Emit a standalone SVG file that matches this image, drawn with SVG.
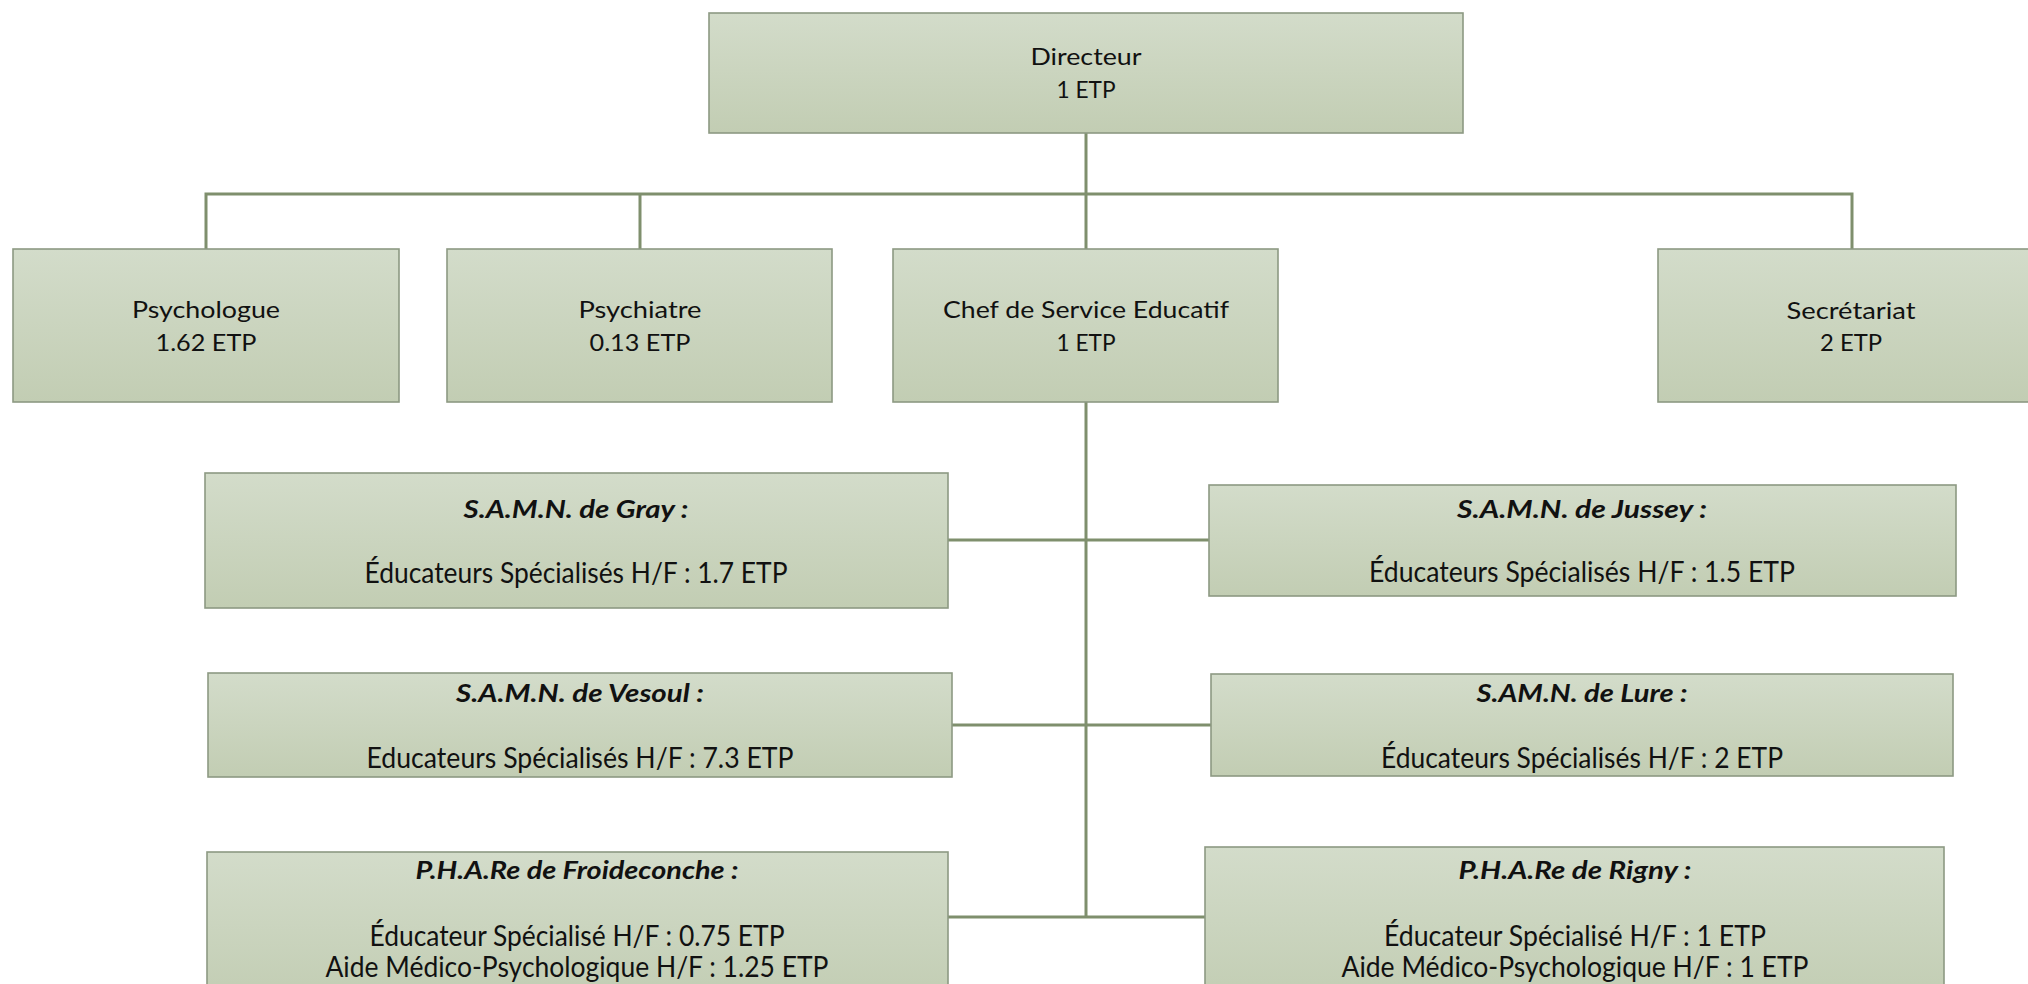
<svg xmlns="http://www.w3.org/2000/svg" width="2028" height="984" viewBox="0 0 2028 984">
<defs>
<linearGradient id="g" x1="0" y1="0" x2="0" y2="1">
<stop offset="0" stop-color="#d3dcca"/>
<stop offset="1" stop-color="#c2cdb3"/>
</linearGradient>
</defs>
<style>
.box{fill:url(#g);stroke:#8d9983;stroke-width:1.6}
.t{font-family:Lato,"Liberation Sans",sans-serif;font-size:24px;fill:#111;text-anchor:middle}
.h{font-family:Lato,"Liberation Sans",sans-serif;font-size:25px;font-weight:bold;font-style:italic;fill:#111;text-anchor:middle}
.l{font-family:Lato,"Liberation Sans",sans-serif;font-size:28px;fill:#111;text-anchor:middle}
.c{fill:none;stroke:#7f8f6d;stroke-width:3}
</style>
<rect width="2028" height="984" fill="#ffffff"/>
<g id="connectors">
<path class="c" d="M1086 133 V917"/>
<path class="c" d="M206 249 V194 H1852 V249"/>
<path class="c" d="M640 194 V249"/>
<path class="c" d="M948 540 H1209"/>
<path class="c" d="M952 725 H1211"/>
<path class="c" d="M948 917 H1205"/>
</g>
<g id="directeur">
<rect class="box" x="709" y="13" width="754" height="120"/>
<text class="t" x="1086" y="65" textLength="111" lengthAdjust="spacingAndGlyphs">Directeur</text>
<text class="t" x="1086" y="98" textLength="59" lengthAdjust="spacingAndGlyphs">1 ETP</text>
</g>
<g id="psychologue">
<rect class="box" x="13" y="249" width="386" height="153"/>
<text class="t" x="206" y="318" textLength="148" lengthAdjust="spacingAndGlyphs">Psychologue</text>
<text class="t" x="206" y="351" textLength="101" lengthAdjust="spacingAndGlyphs">1.62 ETP</text>
</g>
<g id="psychiatre">
<rect class="box" x="447" y="249" width="385" height="153"/>
<text class="t" x="640" y="318" textLength="123" lengthAdjust="spacingAndGlyphs">Psychiatre</text>
<text class="t" x="640" y="351" textLength="101" lengthAdjust="spacingAndGlyphs">0.13 ETP</text>
</g>
<g id="chef">
<rect class="box" x="893" y="249" width="385" height="153"/>
<text class="t" x="1086" y="318" textLength="286" lengthAdjust="spacingAndGlyphs">Chef de Service Educatif</text>
<text class="t" x="1086" y="351" textLength="59" lengthAdjust="spacingAndGlyphs">1 ETP</text>
</g>
<g id="secretariat">
<rect class="box" x="1658" y="249" width="390" height="153"/>
<text class="t" x="1851" y="319" textLength="129" lengthAdjust="spacingAndGlyphs">Secrétariat</text>
<text class="t" x="1851" y="351" textLength="62" lengthAdjust="spacingAndGlyphs">2 ETP</text>
</g>
<g id="gray">
<rect class="box" x="205" y="473" width="743" height="135"/>
<text class="h" x="576" y="518" textLength="225" lengthAdjust="spacingAndGlyphs">S.A.M.N. de Gray :</text>
<text class="l" x="576" y="583" textLength="423" lengthAdjust="spacingAndGlyphs">Éducateurs Spécialisés H/F : 1.7 ETP</text>
</g>
<g id="jussey">
<rect class="box" x="1209" y="485" width="747" height="111"/>
<text class="h" x="1582" y="518" textLength="250" lengthAdjust="spacingAndGlyphs">S.A.M.N. de Jussey  :</text>
<text class="l" x="1582" y="582" textLength="426" lengthAdjust="spacingAndGlyphs">Éducateurs Spécialisés H/F : 1.5 ETP</text>
</g>
<g id="vesoul">
<rect class="box" x="208" y="673" width="744" height="104"/>
<text class="h" x="580" y="702" textLength="248" lengthAdjust="spacingAndGlyphs">S.A.M.N. de Vesoul :</text>
<text class="l" x="580" y="768" textLength="427" lengthAdjust="spacingAndGlyphs">Educateurs Spécialisés H/F : 7.3 ETP</text>
</g>
<g id="lure">
<rect class="box" x="1211" y="674" width="742" height="102"/>
<text class="h" x="1582" y="702" textLength="211" lengthAdjust="spacingAndGlyphs">S.AM.N. de Lure :</text>
<text class="l" x="1582" y="768" textLength="402" lengthAdjust="spacingAndGlyphs">Éducateurs Spécialisés H/F : 2 ETP</text>
</g>
<g id="froideconche">
<rect class="box" x="207" y="852" width="741" height="150"/>
<text class="h" x="577" y="879" textLength="323" lengthAdjust="spacingAndGlyphs">P.H.A.Re de Froideconche :</text>
<text class="l" x="577" y="946" textLength="415" lengthAdjust="spacingAndGlyphs">Éducateur Spécialisé H/F : 0.75 ETP</text>
<text class="l" x="577" y="977" textLength="503" lengthAdjust="spacingAndGlyphs">Aide Médico-Psychologique H/F : 1.25 ETP</text>
</g>
<g id="rigny">
<rect class="box" x="1205" y="847" width="739" height="155"/>
<text class="h" x="1575" y="879" textLength="233" lengthAdjust="spacingAndGlyphs">P.H.A.Re de Rigny :</text>
<text class="l" x="1575" y="946" textLength="382" lengthAdjust="spacingAndGlyphs">Éducateur Spécialisé H/F : 1 ETP</text>
<text class="l" x="1575" y="977" textLength="467" lengthAdjust="spacingAndGlyphs">Aide Médico-Psychologique H/F : 1 ETP</text>
</g>
</svg>
